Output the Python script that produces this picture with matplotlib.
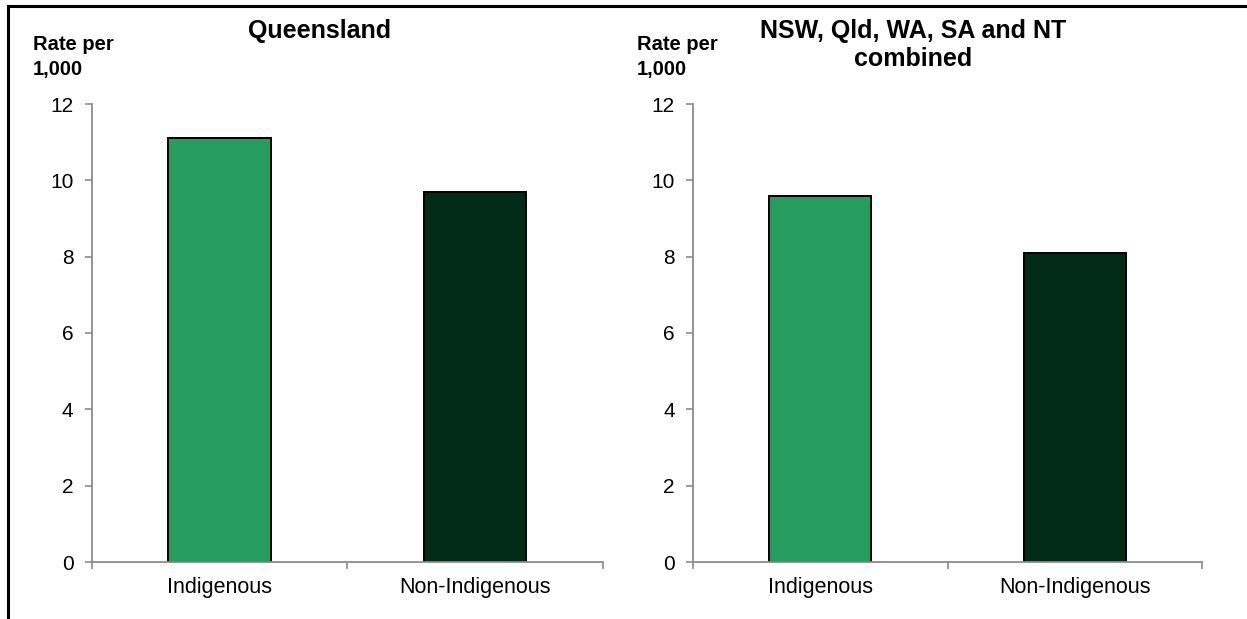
import matplotlib
matplotlib.use("Agg")
import matplotlib.pyplot as plt
from matplotlib.lines import Line2D

plt.rcParams['font.family'] = ['Liberation Sans', 'DejaVu Sans']

categories = ["Indigenous", "Non-Indigenous"]
qld_values = [11.1, 9.7]
combined_values = [9.6, 8.1]
bar_colors = ["#269C5F", "#022B18"]
yticks = [0, 2, 4, 6, 8, 10, 12]
titles = ["Queensland", "NSW, Qld, WA, SA and NT\ncombined"]
ylabel = "Rate per\n1,000"

W, H = 1247, 619
fig = plt.figure(figsize=(W / 100, H / 100), dpi=100)

spine_col = "#8C8C8C"

def px_x(x):
    return x / W

def px_y(y):
    return 1 - y / H

panels = [
    (91.5, 603, qld_values, titles[0], 320, 31, 33),
    (693, 1202, combined_values, titles[1], 913, 45, 637),
]

for x0, x1, vals, title, tx, ty, lx in panels:
    ax = fig.add_axes([px_x(x0), px_y(562), (x1 - x0) / W, (562 - 104) / H])
    pos = list(range(len(categories)))
    ax.bar(pos, vals, width=0.4, color=bar_colors, edgecolor="black", linewidth=1.4, zorder=1)
    ax.set_xlim(-0.5, len(categories) - 0.5)
    ax.set_ylim(0, 12)
    ax.set_yticks(yticks)
    ax.set_xticks(pos)
    ax.set_xticklabels(categories, fontsize=15.5)
    ax.set_xticks([-0.5, 0.5, 1.5], minor=True)
    ax.tick_params(axis='x', which='major', length=0, pad=11)
    ax.tick_params(axis='x', which='minor', length=5, width=1.2, color=spine_col, direction='out')
    ax.tick_params(axis='y', length=5, width=1.2, color=spine_col, direction='out', pad=8, labelsize=15)
    for s in ["top", "right"]:
        ax.spines[s].set_visible(False)
    for s in ["left", "bottom"]:
        ax.spines[s].set_color(spine_col)
        ax.spines[s].set_linewidth(1.3)
        ax.spines[s].set_zorder(3)
    fig.text(px_x(tx), px_y(ty), title, ha="center", va="center", fontsize=18,
             fontweight="bold", linespacing=1.2)
    fig.text(px_x(lx), px_y(57), ylabel, ha="left", va="center", fontsize=14.5,
             fontweight="bold", linespacing=1.45)

# figure border (left and top)
fig.add_artist(Line2D([px_x(8), px_x(8)], [0, px_y(6)], color="black", linewidth=2.2,
                      transform=fig.transFigure))
fig.add_artist(Line2D([px_x(8), 1], [px_y(6), px_y(6)], color="black", linewidth=2.2,
                      transform=fig.transFigure))

fig.savefig("out.png", dpi=100)
